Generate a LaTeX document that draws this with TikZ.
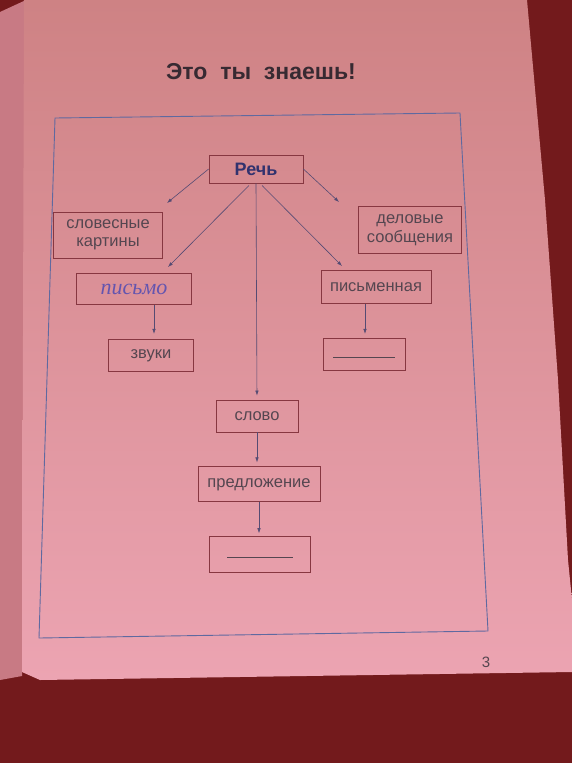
\documentclass[tikz,border=0pt]{standalone}
\usepackage{fontspec}
\setmainfont{Liberation Sans}
\newfontfamily\handfont{Liberation Serif}
\usepackage{tikz}
\usetikzlibrary{arrows.meta,positioning}
\definecolor{pagetop}{RGB}{206,130,132}
\definecolor{pagebot}{RGB}{236,164,178}
\definecolor{sidepage}{RGB}{200,122,132}
\definecolor{cover}{RGB}{115,26,28}
\definecolor{boxline}{RGB}{135,55,65}
\definecolor{frameblue}{RGB}{95,105,160}
\definecolor{arrowline}{RGB}{85,75,115}
\definecolor{inkgray}{RGB}{85,70,80}
\definecolor{titleink}{RGB}{55,42,50}
\definecolor{penblue}{RGB}{100,85,175}

\begin{document}
\begin{tikzpicture}[x=1pt, y=-1pt,
    box/.style={draw=boxline, line width=0.8pt, align=center, inner sep=2pt, text=inkgray, font=\fontsize{16.5}{18.5}\selectfont},
    arr/.style={-{Latex[length=5pt,width=3.5pt]}, draw=arrowline, line width=0.6pt},
    node distance=34pt
  ]
  \useasboundingbox (0,0) rectangle (572,763);
  % cover, neighbouring page and page
  \fill[cover] (0,0) rectangle (572,763);
  \fill[sidepage] (0,12) -- (26,0) -- (22,676) -- (0,680) -- cycle;
  \shade[top color=pagetop, bottom color=pagebot] (24,0) -- (527,0) -- (545,200) -- (558,380) -- (568,560) -- (572,600) -- (572,672) -- (40,680) -- (22,672) -- cycle;
  \draw[frameblue, line width=0.9pt] (55,118) -- (460,113) -- (488,631) -- (39,638) -- cycle;

  \node[font=\bfseries\fontsize{23}{25}\selectfont, text=titleink] (title) at (261,72) {Это\ \ ты\ \ знаешь!};
  \node[font=\fontsize{15}{17}\selectfont, text=inkgray] (pnum) at (486,662) {3};

  \node[box, minimum width=94pt, minimum height=28pt, font=\bfseries\fontsize{18}{20}\selectfont, text={rgb,255:red,50;green,50;blue,110}] (rech) at (256,169) {Речь};
  \node[box, minimum width=109pt, minimum height=46pt] (slovesn) at (108,235) {словесные\\картины};
  \node[box, minimum width=103pt, minimum height=47pt] (delov) at (410,230) {деловые\\сообщения};
  \node[box, minimum width=115pt, minimum height=31pt, text=penblue, font=\handfont\itshape\fontsize{22}{24}\selectfont] (pismo) at (134,289) {письмо};
  \node[box, minimum width=110pt, minimum height=33pt] (pismen) at (376,287) {письменная};
  \node[box, minimum width=85pt, minimum height=32pt, below=of pismo, xshift=17pt] (zvuki) {звуки};
  \node[box, minimum width=82pt, minimum height=32pt, below=of pismen, xshift=-12pt] (blankR) {\rule[-6pt]{62pt}{0.7pt}};
  \node[box, minimum width=82pt, minimum height=32pt] (slovo) at (257,416) {слово};
  \node[box, minimum width=122pt, minimum height=35pt, below=of slovo, xshift=2pt] (predl) {предложение};
  \node[box, minimum width=101pt, minimum height=36pt, below=of predl, xshift=1pt] (blankB) {\rule[-6pt]{66pt}{0.7pt}};

  \coordinate (tipSl) at (167,203);
  \coordinate (tipPi) at (168,267);
  \coordinate (tipPm) at (342,266);
  \coordinate (tipDl) at (339,202);

  \draw[arr] (rech.west) -- (tipSl);
  \draw[arr, shorten <=3pt] ([xshift=-5pt]rech.south) -- (tipPi);
  \draw[arr, shorten >=4pt] (rech.south) -- (slovo.north);
  \draw[arr, shorten <=3pt] ([xshift=4pt]rech.south) -- (tipPm);
  \draw[arr] (rech.east) -- (tipDl);
  \draw[arr, shorten >=5pt] ([xshift=3pt]zvuki.north |- pismo.south) -- ([xshift=3pt]zvuki.north);
  \draw[arr, shorten >=4pt] ([xshift=1pt]blankR.north |- pismen.south) -- ([xshift=1pt]blankR.north);
  \draw[arr, shorten >=4pt] (slovo.south) -- (slovo.south |- predl.north);
  \draw[arr, shorten >=3pt] (predl.south) -- (predl.south |- blankB.north);
\end{tikzpicture}
\end{document}
